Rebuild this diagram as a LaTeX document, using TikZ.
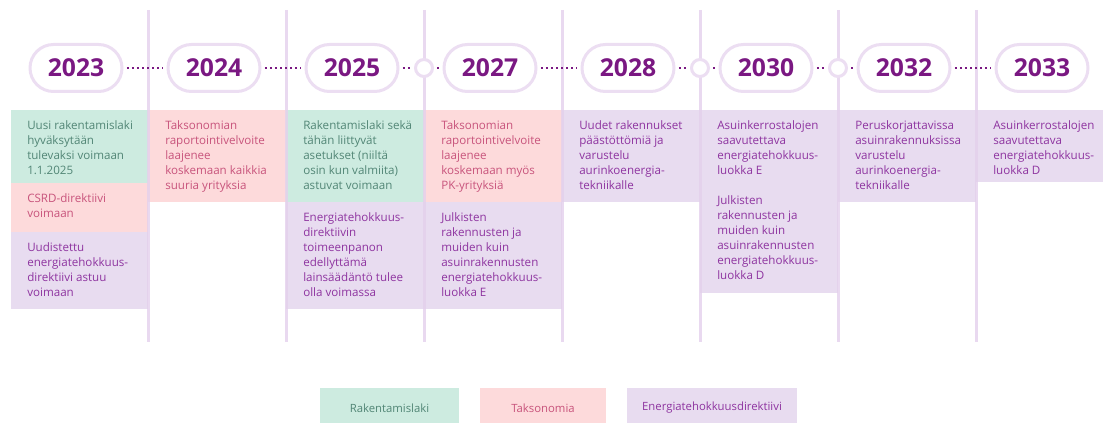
\documentclass[tikz,border=0pt]{standalone}
\usepackage{fontspec}
\setmainfont{Open Sans}
\usetikzlibrary{positioning}

\definecolor{poleline}{RGB}{228,208,236}
\definecolor{pillline}{RGB}{236,222,242}
\definecolor{yearcol}{RGB}{122,24,130}
\definecolor{rakfill}{RGB}{205,235,224}
\definecolor{raktext}{RGB}{82,134,118}
\definecolor{taksfill}{RGB}{253,218,219}
\definecolor{takstext}{RGB}{200,84,124}
\definecolor{enfill}{RGB}{232,220,240}
\definecolor{entext}{RGB}{142,52,160}

\tikzset{
  year/.style={draw=pillline, line width=2.25pt, fill=white, rounded corners=17.6pt,
    minimum width=69pt, minimum height=35.25pt, inner sep=0pt, text=yearcol,
    font=\fontsize{18.5}{20}\selectfont\bfseries},
  knot/.style={circle, draw=pillline, line width=2.25pt, fill=white,
    minimum size=12.75pt, inner sep=0pt},
  dots/.style={yearcol, line width=1.6pt, dash pattern=on 1.6pt off 2.2pt,
    shorten <=2.5pt, shorten >=2.5pt},
  pole/.style={poleline, line width=2.25pt, draw opacity=0.8},
  box/.style={anchor=north west, inner sep=0pt, minimum width=103.5pt},
  txt/.style={inner sep=0pt, align=left, font=\fontsize{8.7}{11.25}\selectfont},
  key/.style={inner sep=0pt, minimum height=30pt, font=\fontsize{8.5}{11}\selectfont},
}

\begin{document}
\begin{tikzpicture}[x=0.75pt, y=-0.75pt]
  \useasboundingbox (0,0) rectangle (1103,423);

  % 2023
  \node[box, fill=rakfill, minimum width=102.75pt, minimum height=54.75pt] (r23) at (11,110) {};
  \node[box, fill=taksfill, minimum width=102.75pt, minimum height=36.75pt] (t23) at (11,183) {};
  \node[box, fill=enfill, minimum width=102.75pt, minimum height=57.75pt] (e23) at (11,232) {};
  \node[txt, text=raktext, below right=8pt and 12pt of r23.north west] (r23txt)
    {Uusi rakentamislaki\\hyväksytään\\tulevaksi voimaan\\1.1.2025};
  \node[txt, text=takstext, below right=8pt and 12pt of t23.north west] (t23txt)
    {CSRD-direktiivi\\voimaan};
  \node[txt, text=entext, below right=8pt and 12pt of e23.north west] (e23txt)
    {Uudistettu\\energiatehokkuus-\\direktiivi astuu\\voimaan};

  % 2024
  \node[box, fill=taksfill, minimum height=69pt] (t24) at (148,110) {};
  \node[txt, text=takstext, below right=8pt and 12.75pt of t24.north west] (t24txt)
    {Taksonomian\\raportointivelvoite\\laajenee\\koskemaan kaikkia\\suuria yrityksia};

  % 2025
  \node[box, fill=rakfill, minimum height=69pt] (r25) at (286,110) {};
  \node[box, fill=enfill, minimum height=80.25pt] (e25) at (286,202) {};
  \node[txt, text=raktext, below right=8pt and 12.75pt of r25.north west] (r25txt)
    {Rakentamislaki sekä\\tähän liittyvät\\asetukset (niiltä\\osin kun valmiita)\\astuvat voimaan};
  \node[txt, text=entext, below right=8pt and 12.75pt of e25.north west] (e25txt)
    {Energiatehokkuus-\\direktiivin\\toimeenpanon\\edellyttämä\\lainsäädäntö tulee\\olla voimassa};

  % 2027
  \node[box, fill=taksfill, minimum height=69pt] (t27) at (424,110) {};
  \node[box, fill=enfill, minimum height=80.25pt] (e27) at (424,202) {};
  \node[txt, text=takstext, below right=8pt and 12.75pt of t27.north west] (t27txt)
    {Taksonomian\\raportointivelvoite\\laajenee\\koskemaan myös\\PK-yrityksiä};
  \node[txt, text=entext, below right=8pt and 12.75pt of e27.north west] (e27txt)
    {Julkisten\\rakennusten ja\\muiden kuin\\asuinrakennusten\\energiatehokkuus-\\luokka E};

  % 2028
  \node[box, fill=enfill, minimum height=69pt] (e28) at (562,110) {};
  \node[txt, text=entext, below right=8pt and 12.75pt of e28.north west] (e28txt)
    {Uudet rakennukset\\päästöttömiä ja\\varustelu\\aurinkoenergia-\\tekniikalle};

  % 2030
  \node[box, fill=enfill, minimum height=137.25pt] (e30) at (700,110) {};
  \node[txt, text=entext, below right=8pt and 12.75pt of e30.north west] (e30txt)
    {Asuinkerrostalojen\\saavutettava\\energiatehokkuus-\\luokka E\\[11.25pt]
     Julkisten\\rakennusten ja\\muiden kuin\\asuinrakennusten\\energiatehokkuus-\\luokka D};

  % 2032
  \node[box, fill=enfill, minimum height=69pt] (e32) at (838,110) {};
  \node[txt, text=entext, below right=8pt and 12.75pt of e32.north west] (e32txt)
    {Peruskorjattavissa\\asuinrakennuksissa\\varustelu\\aurinkoenergia-\\tekniikalle};

  % 2033
  \node[box, fill=enfill, minimum width=95.25pt, minimum height=54pt] (e33) at (976,110) {};
  \node[txt, text=entext, below right=8pt and 12.75pt of e33.north west] (e33txt)
    {Asuinkerrostalojen\\saavutettava\\energiatehokkuus-\\luokka D};

  % column separators
  \foreach \i/\x in {1/148,2/286,3/424,4/562,5/700,6/838,7/976} {
    \coordinate (top\i) at (\x,10);
    \coordinate (bot\i) at (\x,342);
    \draw[pole] (top\i) -- (bot\i);
  }

  % year pills and the small rings between them
  \node[year] (y23) at (76,68) {2023};
  \node[year] (y24) at (214,68) {2024};
  \node[year] (y25) at (352,68) {2025};
  \node[knot] (k26) at (424,68) {};
  \node[year] (y27) at (490,68) {2027};
  \node[year] (y28) at (628,68) {2028};
  \node[knot] (k29) at (700,68) {};
  \node[year] (y30) at (766,68) {2030};
  \node[knot] (k31) at (838,68) {};
  \node[year] (y32) at (904,68) {2032};
  \node[year] (y33) at (1042,68) {2033};

  \draw[dots] (y23) -- (y24);
  \draw[dots] (y24) -- (y25);
  \draw[dots] (y25) -- (k26);
  \draw[dots] (k26) -- (y27);
  \draw[dots] (y27) -- (y28);
  \draw[dots] (y28) -- (k29);
  \draw[dots] (k29) -- (y30);
  \draw[dots] (y30) -- (k31);
  \draw[dots] (k31) -- (y32);
  \draw[dots] (y32) -- (y33);

  % legend
  \node[key, fill=rakfill, text=raktext, minimum width=104.25pt] (lrak) at (389.5,408) {Rakentamislaki};
  \node[key, fill=taksfill, text=takstext, minimum width=94.5pt] (ltaks) at (543,408) {Taksonomia};
  \node[key, fill=enfill, text=entext, minimum width=127.5pt] (len) at (712,408) {Energiatehokkuusdirektiivi};
\end{tikzpicture}
\end{document}
